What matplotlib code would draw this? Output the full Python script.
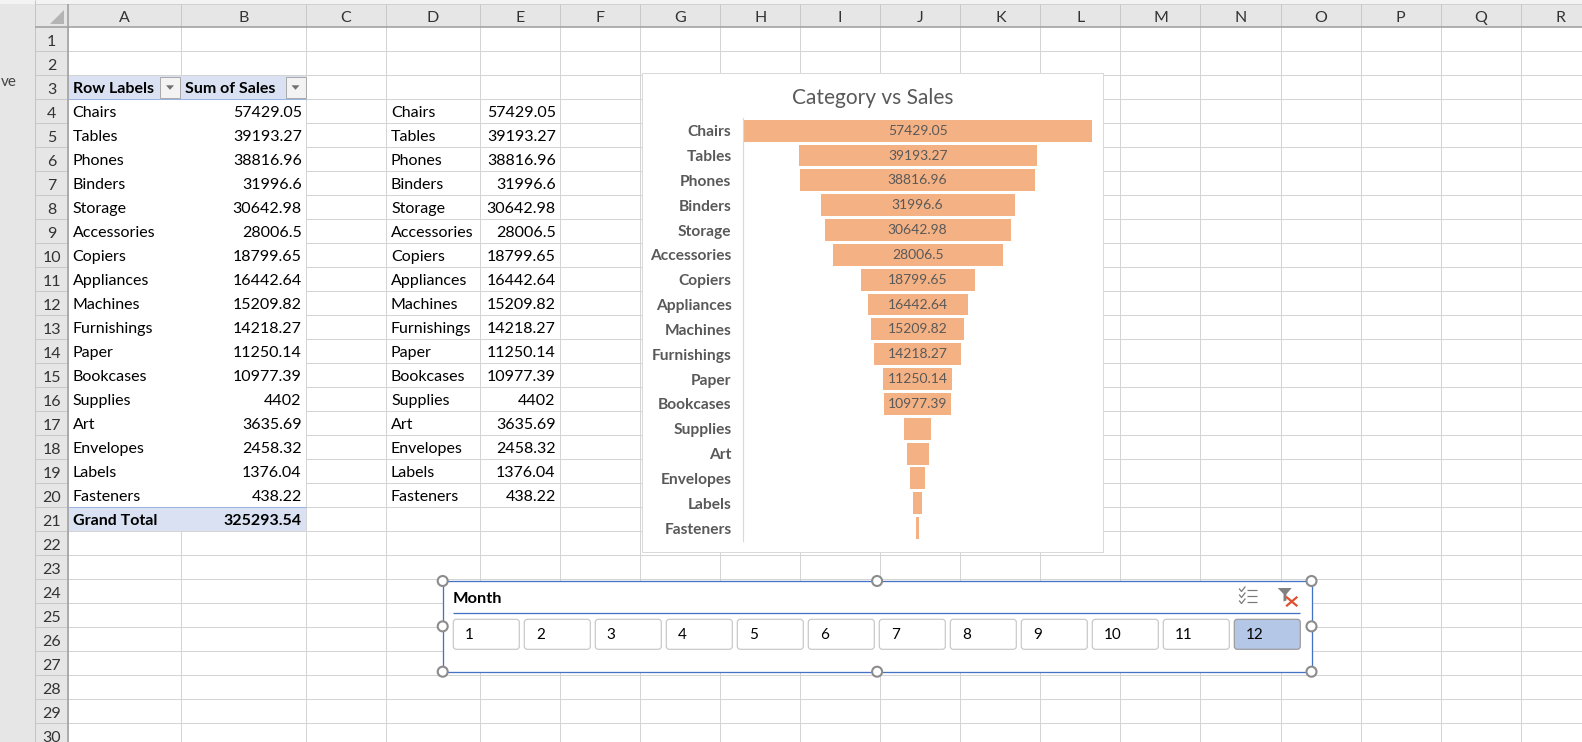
import matplotlib
matplotlib.use('Agg')
import matplotlib.pyplot as plt
from matplotlib.patches import Rectangle, FancyBboxPatch, Circle, Polygon

# ---------------- data ----------------
categories = ['Chairs', 'Tables', 'Phones', 'Binders', 'Storage', 'Accessories',
              'Copiers', 'Appliances', 'Machines', 'Furnishings', 'Paper',
              'Bookcases', 'Supplies', 'Art', 'Envelopes', 'Labels', 'Fasteners']
sales = [57429.05, 39193.27, 38816.96, 31996.6, 30642.98, 28006.5,
         18799.65, 16442.64, 15209.82, 14218.27, 11250.14,
         10977.39, 4402, 3635.69, 2458.32, 1376.04, 438.22]
col_letters = ['A', 'B', 'C', 'D', 'E', 'F', 'G', 'H', 'I', 'J', 'K', 'L',
               'M', 'N', 'O', 'P', 'Q', 'R']
row_numbers = list(range(1, 31))
months = ['1', '2', '3', '4', '5', '6', '7', '8', '9', '10', '11', '12']
selected_months = ['12']
pivot_headers = ['Row Labels', 'Sum of Sales']
total_label = 'Grand Total'
chart_title = 'Category vs Sales'
slicer_title = 'Month'


def fmt(v):
    return f"{v:.2f}".rstrip('0').rstrip('.')


# ---------------- layout ----------------
W, H = 1582, 742
fig = plt.figure(figsize=(W / 100, H / 100), dpi=100)
fig.patch.set_facecolor('white')
bg = fig.add_axes([0, 0, 1, 1])
bg.set_xlim(0, W)
bg.set_ylim(H, 0)
bg.axis('off')

FONT = ['Lato', 'DejaVu Sans']
PX = 0.72
GRID = '#D4D4D4'
HDR = '#E6E6E6'
TXT = '#000000'
FS = 11.5

col_edges = [68, 181, 306, 386, 480] + [560 + 80.06 * i for i in range(14)]
ROW0, RH = 27.3, 24.0


def rtop(r):
    return ROW0 + (r - 1) * RH


def rbot(r):
    return ROW0 + r * RH


def hline(y, x0, x1, c=GRID, lw=1.0, z=1):
    bg.plot([x0, x1], [y, y], color=c, lw=lw * PX, zorder=z, solid_capstyle='butt')


def vline(x, y0, y1, c=GRID, lw=1.0, z=1):
    bg.plot([x, x], [y0, y1], color=c, lw=lw * PX, zorder=z, solid_capstyle='butt')


def txt(x, y, s, ha='left', va='baseline', size=FS, weight='normal', color=TXT, z=8):
    bg.text(x, y, s, ha=ha, va=va, fontsize=size, fontweight=weight, color=color,
            family=FONT, zorder=z)


# grid
for x in col_edges:
    vline(x, ROW0, H)
for r in range(2, 32):
    hline(rtop(r), 68, W)

# left strip + headers
bg.add_patch(Rectangle((0, 0), 35, H, fc=HDR, ec='none', zorder=2))
bg.add_patch(Rectangle((0, 0), W, 4, fc='#F3F3F3', ec='none', zorder=2))
bg.add_patch(Rectangle((35, 4), W - 35, ROW0 - 4, fc=HDR, ec='none', zorder=2))
bg.add_patch(Rectangle((35, ROW0), 33, H - ROW0, fc=HDR, ec='none', zorder=2))
vline(35, 0, H, c='#C4C4C4', z=3)
hline(4, 35, W, c='#D0D0D0', z=3)
for x in col_edges[1:]:
    vline(x, 4, ROW0, c='#C8C8C8', z=3)
for r in range(2, 32):
    hline(rtop(r), 35, 68, c='#C8C8C8', z=3)
hline(ROW0, 35, W, c='#A0A0A0', lw=1.6, z=4)
vline(68, 4, H, c='#A0A0A0', lw=1.6, z=4)
bg.add_patch(Polygon([(64, 10), (64, 24), (50, 24)], closed=True, fc='#B4B4B4', ec='none', zorder=4))
txt(0.5, 86, 've', ha='left', color='#444444', size=11)

for i, L in enumerate(col_letters):
    txt((col_edges[i] + col_edges[i + 1]) / 2, 21.7, L, ha='center', color='#333333', z=5)
for r in row_numbers:
    txt(51.5, rbot(r) - 5.3, str(r), ha='center', color='#333333', z=5)

# ---------------- pivot table (A3:B21) ----------------
bg.add_patch(Rectangle((68.5, rtop(4) + 0.5), 306 - 69, 17 * RH - 1, fc='white', ec='none', zorder=3))
bg.add_patch(Rectangle((68.5, rtop(3) + 0.5), 306 - 69, RH - 0.5, fc='#D9E1F2', ec='none', zorder=3))
bg.add_patch(Rectangle((68.5, rtop(21)), 306 - 69, RH - 0.5, fc='#D9E1F2', ec='none', zorder=3))
hline(rtop(4), 68, 306, c='#9BB3E0', z=4)
hline(rtop(21), 68, 306, c='#9BB3E0', z=4)

for bx in (160, 285.5):
    bg.add_patch(Rectangle((bx, rtop(3) + 1.5), 20, 21, fc='#F3F3F3', ec='#AAAAAA', lw=PX, zorder=5))
    bg.add_patch(Polygon([(bx + 6, rtop(3) + 10), (bx + 14, rtop(3) + 10), (bx + 10, rtop(3) + 14.5)],
                         closed=True, fc='#707070', ec='none', zorder=6))

txt(72.7, rbot(3) - 6, pivot_headers[0], weight='bold')
txt(185, rbot(3) - 6, pivot_headers[1], weight='bold')
for i, (c, v) in enumerate(zip(categories, sales)):
    r = 4 + i
    txt(72.7, rbot(r) - 6, c)
    txt(301.7, rbot(r) - 6, fmt(v), ha='right')
    txt(391, rbot(r) - 6, c)
    txt(555.7, rbot(r) - 6, fmt(v), ha='right')
txt(72.7, rbot(21) - 6, total_label, weight='bold')
txt(301.7, rbot(21) - 6, fmt(sum(sales)), ha='right', weight='bold')

# ---------------- funnel chart ----------------
CX0, CY0, CX1, CY1 = 642, 73.3, 1103, 551.7
bg.add_patch(Rectangle((CX0, CY0), CX1 - CX0, CY1 - CY0, fc='white', ec='#D9D9D9', lw=PX, zorder=10))
bg.text((CX0 + CX1) / 2, 104.3, chart_title, ha='center', va='baseline', fontsize=15,
        color='#595959', family=FONT, zorder=11)

AX0, AX1, AY0, AY1 = 743.3, 1092, 118.3, 540.5
ax = fig.add_axes([AX0 / W, 1 - AY1 / H, (AX1 - AX0) / W, (AY1 - AY0) / H])
ax.patch.set_alpha(0)
n = len(categories)
vmax = max(sales)
ypos = list(range(n))
bars = ax.barh(ypos, sales, left=[-v / 2 for v in sales], height=0.88, color='#F4B183', zorder=2)
ax.set_xlim(-vmax / 2, vmax / 2)
ax.set_ylim(n - 0.5, -0.5)
ax.set_xticks([])
ax.set_yticks(ypos)
ax.set_yticklabels(categories, fontsize=11.2, fontweight='bold', color='#595959', family=FONT)
ax.tick_params(axis='y', length=0, pad=8.5)
for s in ('top', 'right', 'bottom'):
    ax.spines[s].set_visible(False)
ax.spines['left'].set_color('#D9D9D9')
ax.spines['left'].set_linewidth(PX * 1.2)

labels = []
for i, v in enumerate(sales):
    t = ax.text(0, i, fmt(v), ha='center', va='center', fontsize=10, color='#595959',
                family=FONT, zorder=3)
    labels.append((t, v))
fig.canvas.draw()
rend = fig.canvas.get_renderer()
axw = AX1 - AX0
for t, v in labels:
    tw = t.get_window_extent(rend).width
    if tw + 2 > v / vmax * axw:
        t.remove()

# ---------------- slicer ----------------
SX0, SY0, SX1, SY1 = 442.7, 581, 1311.5, 671.7
bg.add_patch(Rectangle((SX0, SY0), SX1 - SX0, SY1 - SY0, fc='white', ec='#4472C4', lw=1.3 * PX, zorder=20))
hline(613.3, 453, 1300, c='#4472C4', lw=1.3, z=21)
txt(453, 602.7, slicer_title, weight='bold', z=21, size=11.8)
for i, m in enumerate(months):
    x0 = 453.3 + 71 * i
    sel = m in selected_months
    bg.add_patch(FancyBboxPatch((x0, 619.3), 66, 30, boxstyle='round,pad=0,rounding_size=3',
                                fc='#B4C7E7' if sel else 'white',
                                ec='#9A9A9A' if sel else '#C8C8C8', lw=PX * 1.2, zorder=21))
    bg.text(x0 + 11.5, 634.6, m, ha='left', va='center', fontsize=11, color=TXT,
            family=FONT, zorder=22)

# multi-select icon
ic = '#7A7A7A'
for k, yy in enumerate((590, 596, 602)):
    bg.plot([1239.5, 1241.5, 1245], [yy - 1, yy + 1.5, yy - 3], color=ic, lw=0.9, zorder=22)
    hline(yy, 1247, 1257, c=ic, lw=1.2, z=22)
# clear-filter icon
bg.add_patch(Polygon([(1277.7, 588), (1291.7, 588), (1286.5, 594), (1286.5, 600.5),
                      (1283.5, 601.5), (1283.5, 594)], closed=True, fc='#808080', ec='none', zorder=22))
bg.plot([1287, 1296.5], [597.5, 605.5], color='#E0502F', lw=1.6, zorder=23)
bg.plot([1296.5, 1287], [597.5, 605.5], color='#E0502F', lw=1.6, zorder=23)

mx = (SX0 + SX1) / 2
my = (SY0 + SY1) / 2
for (hx, hy) in [(SX0, SY0), (mx, SY0), (SX1, SY0), (SX0, my), (SX1, my),
                 (SX0, SY1), (mx, SY1), (SX1, SY1)]:
    bg.add_patch(Circle((hx, hy), 5, fc='white', ec='#8C8C8C', lw=1.5, zorder=24))

fig.savefig('out.png', dpi=100, facecolor='white')
